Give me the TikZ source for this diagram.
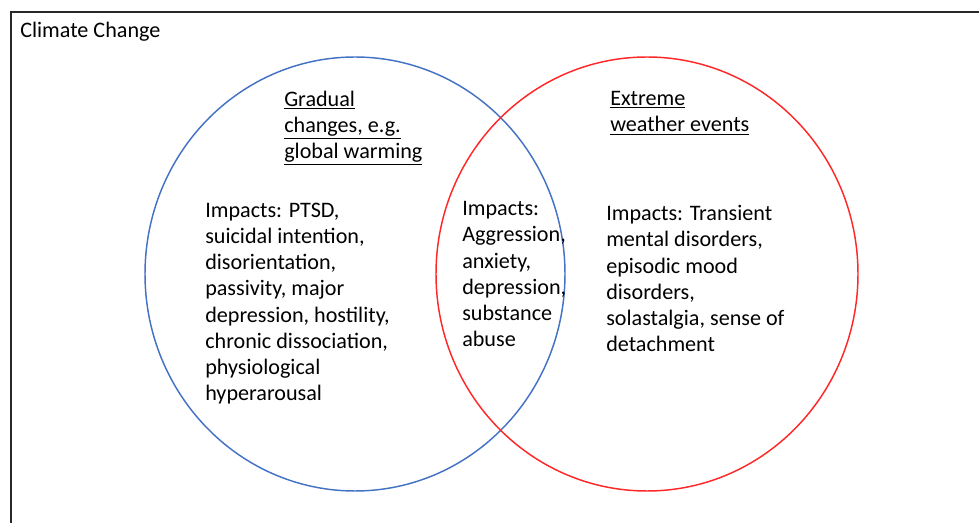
\documentclass[tikz,border=0pt]{standalone}
\usepackage{fontspec}
\setmainfont{Carlito}
\definecolor{setblue}{RGB}{68,114,196}
\definecolor{setred}{RGB}{255,40,40}
\definecolor{framegray}{RGB}{40,40,40}
\begin{document}
\begin{tikzpicture}[x=0.75pt,y=-0.75pt,
  setcircle/.style={line width=1.1pt},
  % multi-line nodes are placed by the baseline of their last line
  bodytext/.style={anchor=base west,align=left,inner sep=0pt,
    font=\fontsize{16.6}{19.7}\selectfont}]
  \useasboundingbox (0,0) rectangle (979,523);
  \clip (0,0) rectangle (979,523);
  % outer frame, running off the right and bottom edges
  \draw[framegray,line width=1.1pt] (11,12) rectangle (1000,540);
  \node[bodytext] (title) at (20,38) {Climate Change};
  % the two overlapping sets
  \draw[setcircle,setblue] (355,274) ellipse[x radius=210,y radius=217];
  \draw[setcircle,setred] (647,274) ellipse[x radius=211,y radius=217];
  % set headings
  \node[bodytext] (gradual) at (284,159)
    {\underline{Gradual}\\\underline{changes, e.g.}\\\underline{global warming}};
  \node[bodytext] (extreme) at (610,132)
    {\underline{Extreme}\\\underline{weather events}};
  % impacts in each region
  \node[bodytext] (leftimp) at (205,401)
    {Impacts: PTSD,\\suicidal intention,\\disorientation,\\passivity, major\\depression, hostility,\\chronic dissociation,\\physiological\\hyperarousal};
  \node[bodytext] (midimp) at (462,347)
    {Impacts:\\Aggression,\\anxiety,\\depression,\\substance\\abuse};
  \node[bodytext] (rightimp) at (606,352)
    {Impacts: Transient\\mental disorders,\\episodic mood\\disorders,\\solastalgia, sense of\\detachment};
\end{tikzpicture}
\end{document}
